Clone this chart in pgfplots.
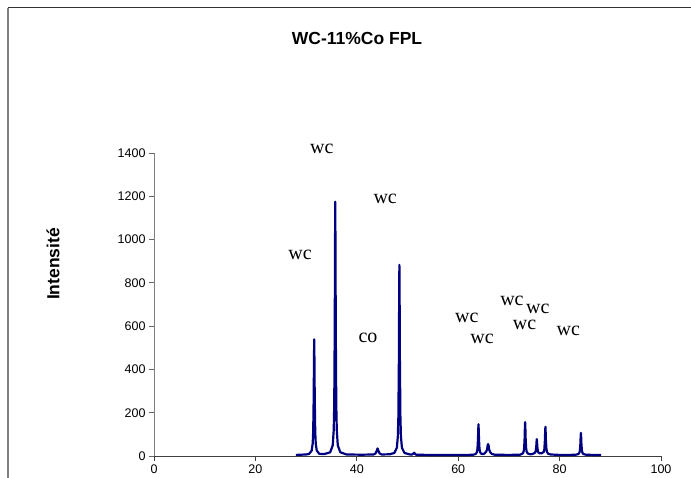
\documentclass[border=0pt]{standalone}
\usepackage{pgfplots}
\pgfplotsset{compat=1.18}
\usepackage{fontspec}
\setmainfont{Liberation Sans}
\newfontfamily\serifwc{Liberation Serif}
\definecolor{xrdblue}{RGB}{0,0,128}

\begin{document}
\begin{tikzpicture}[x=1pt,y=1pt]
\useasboundingbox (0,0) rectangle (691,477);
\clip (0,0) rectangle (691,477);
% chart area border
\draw[black!80, line width=1pt] (8,469) -- (700,469);
\draw[black!50, line width=1.6pt] (8,469) -- (8,-10);
% title and axis label
\node[font=\fontsize{17.5}{18}\selectfont\bfseries] at (357,439) {WC-11\%Co FPL};
\node[font=\fontsize{17.5}{18}\selectfont\bfseries, rotate=90] at (53,213) {Intensité};

\begin{axis}[
  at={(154pt,21pt)}, anchor=south west,
  scale only axis, width=507pt, height=303pt,
  xmin=0, xmax=100, ymin=0, ymax=1400,
  xtick={0,20,...,100}, ytick={0,200,...,1400},
  axis x line*=bottom, axis y line*=left,
  x axis line style={-, black!75, line width=0.9pt},
  y axis line style={-, black!50, line width=0.9pt},
  tick align=outside, major tick length=5pt,
  x tick style={black!75, line width=0.8pt},
  y tick style={black!60, line width=0.8pt},
  /pgf/number format/assume math mode=true,
  /pgf/number format/1000 sep={},
  tick label style={font=\fontsize{12.5}{12.5}\selectfont},
  clip=false,
]
\addplot[xrdblue, line width=2.2pt, line join=round] coordinates {
(28.0,5) (29.0,6) (30.0,7) (30.6,10) (31.1,25) (31.3,58) (31.4,112) (31.5,272) (31.55,432)
(31.6,539) (31.65,432) (31.7,272) (31.8,112) (31.9,58) (32.1,25) (32.6,10) (33.6,9)
(34.75,17) (35.25,49) (35.45,121) (35.55,238) (35.65,588) (35.7,937) (35.75,1175)
(35.8,937) (35.85,588) (35.95,238) (36.05,121) (36.25,49) (36.75,17) (38.0,7) (41.0,6)
(43.3,7) (43.7,12) (43.9,22) (44.1,35) (44.3,22) (44.5,12) (44.9,7) (46.5,8)
(47.4,14) (47.9,38) (48.1,92) (48.2,180) (48.3,442) (48.35,703) (48.4,883)
(48.45,703) (48.5,442) (48.6,180) (48.7,92) (48.9,38) (49.4,14) (50.5,7)
(50.9,7) (51.1,10) (51.3,15) (51.5,10) (51.7,6) (54.0,5) (58.0,5) (62.0,5)
(63.0,6) (63.5,10) (63.7,19) (63.8,33) (63.9,76) (63.95,119) (64.0,147) (64.05,119)
(64.1,76) (64.2,33) (64.3,19) (64.5,11) (64.9,9) (65.2,12) (65.5,20) (65.7,30)
(65.8,48) (65.9,55) (66.0,48) (66.1,30) (66.3,18) (66.6,10) (67.2,6) (70.0,5)
(72.2,6) (72.7,11) (72.9,20) (73.0,35) (73.1,81) (73.15,127) (73.2,157) (73.25,127)
(73.3,81) (73.4,35) (73.5,20) (73.7,12) (74.2,8) (74.6,9) (75.0,13) (75.2,17)
(75.3,24) (75.4,44) (75.45,64) (75.5,78) (75.55,64) (75.6,44) (75.7,24) (75.8,17)
(76.0,13) (76.4,12) (76.7,16) (76.9,20) (77.0,33) (77.1,72) (77.15,110) (77.2,135)
(77.25,110) (77.3,72) (77.4,33) (77.5,20) (77.7,11) (78.2,7) (80.0,5) (82.0,5)
(83.2,6) (83.7,9) (83.9,15) (84.0,25) (84.1,56) (84.15,87) (84.2,107) (84.25,87)
(84.3,56) (84.4,25) (84.5,15) (84.7,9) (85.2,6) (86.5,5) (88.2,5)
};
% peak assignments
\begin{scope}[every node/.style={font=\serifwc\fontsize{20}{20}\selectfont, inner sep=0pt}]
\node at (axis cs:33.1,1418) {wc};
\node at (axis cs:45.6,1190) {wc};
\node at (axis cs:28.8,930) {wc};
\node at (axis cs:42.2,548) {co};
\node at (axis cs:61.7,636) {wc};
\node at (axis cs:64.7,543) {wc};
\node at (axis cs:70.6,718) {wc};
\node at (axis cs:75.7,680) {wc};
\node at (axis cs:73.1,608) {wc};
\node at (axis cs:81.7,576) {wc};
\end{scope}
\end{axis}
\end{tikzpicture}
\end{document}
